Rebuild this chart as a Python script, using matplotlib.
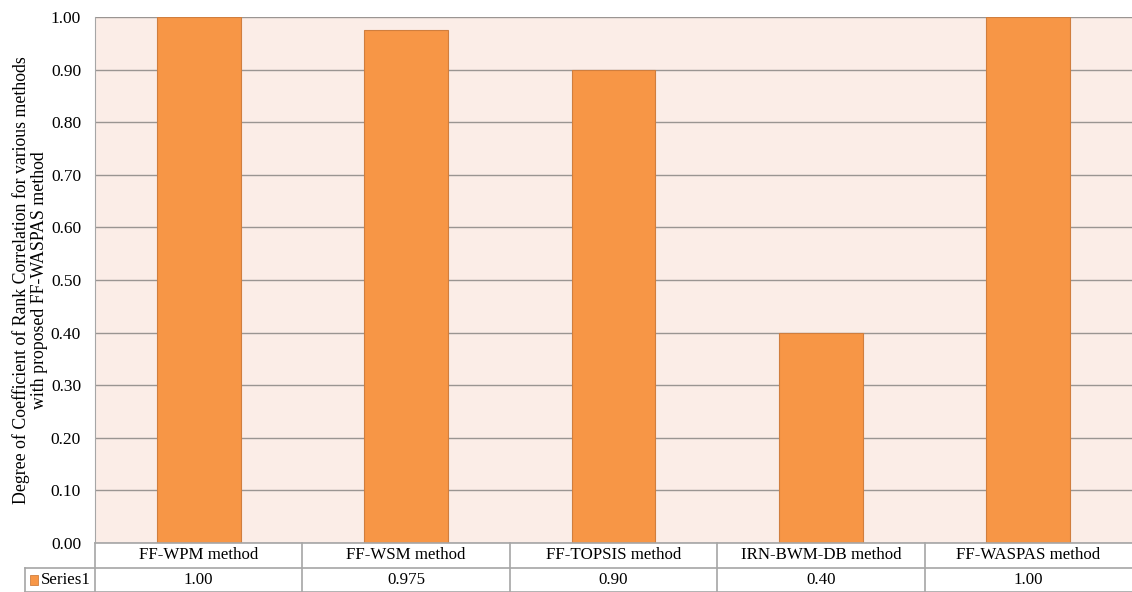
import matplotlib.pyplot as plt
from matplotlib.patches import Rectangle

# data
methods = ["FF-WPM method", "FF-WSM method", "FF-TOPSIS method",
           "IRN-BWM-DB method", "FF-WASPAS method"]
correlation = [1.00, 0.975, 0.90, 0.40, 1.00]
table_labels = ["1.00", "0.975", "0.90", "0.40", "1.00"]
series_name = "Series1"

plt.rcParams['font.family'] = ['Liberation Serif', 'DejaVu Serif']

BAR = "#F79646"
BAR_EDGE = "#D07E3E"
BG = "#FBEDE7"
GRID = "#9A9592"
LINE = "#A6A6A6"

W, H = 1132, 592
fig = plt.figure(figsize=(W / 100, H / 100), dpi=100)
fig.patch.set_facecolor("white")

# plot area in pixel coords
left, right, top, bottom = 95, 1132, 17, 543
ax = fig.add_axes([left / W, (H - bottom) / H, (right - left) / W, (bottom - top) / H])
ax.set_facecolor(BG)

x = range(len(methods))
ax.bar(x, correlation, width=0.405, color=BAR, edgecolor=BAR_EDGE, linewidth=0.8, zorder=3)

ax.set_xlim(-0.5, len(methods) - 0.5)
ax.set_ylim(0, 1.0)
ax.set_yticks([i / 10 for i in range(11)])
ax.set_yticklabels([f"{i / 10:.2f}" for i in range(11)], fontsize=12.5)
ax.tick_params(axis='y', length=0, pad=10)
ax.set_xticks([])
ax.grid(axis='y', color=GRID, linewidth=1.0, zorder=0)
for s in ["top", "right", "bottom"]:
    ax.spines[s].set_visible(False)
ax.spines["left"].set_color(LINE)

ax.set_ylabel("Degree of Coefficient of Rank Correlation for various methods\n"
              "with proposed FF-WASPAS method", fontsize=12.8, labelpad=2,
              linespacing=1.1)

# data table below the plot
tab = fig.add_axes([left / W, 0, (right - left) / W, (H - bottom) / H])
tab.set_xlim(-0.5, len(methods) - 0.5)
tab.set_ylim(0, 2)
tab.axis('off')
key_left = -0.5 - (left - 25) / ((right - left) / len(methods))

kw = dict(color=LINE, linewidth=1.2, clip_on=False)
tab.plot([-0.5, len(methods) - 0.5], [2, 2], **kw)
tab.plot([key_left, len(methods) - 0.5], [1, 1], **kw)
tab.plot([key_left, len(methods) - 0.5], [0.01, 0.01], **kw)
tab.plot([key_left, key_left], [0, 1], **kw)
for i in range(len(methods)):
    tab.plot([i - 0.5, i - 0.5], [0, 2], **kw)

for i, (m, v) in enumerate(zip(methods, table_labels)):
    tab.text(i, 1.5, m, ha='center', va='center', fontsize=12.2)
    tab.text(i, 0.5, v, ha='center', va='center', fontsize=12.2)

tab.add_patch(Rectangle((key_left + 0.025, 0.3), 0.04, 0.4, facecolor=BAR,
                        edgecolor=BAR_EDGE, linewidth=0.6, clip_on=False))
tab.text(key_left + 0.075, 0.5, series_name, ha='left', va='center', fontsize=12.2)

fig.savefig("out.png", dpi=100)
